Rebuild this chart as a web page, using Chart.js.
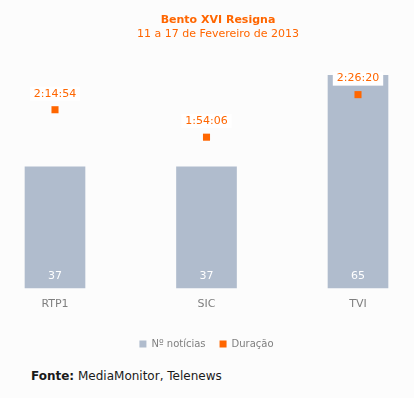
<!DOCTYPE html>
<html>
<head>
<meta charset="utf-8">
<script src="https://cdn.jsdelivr.net/npm/chart.js@4"></script>
<style>
  html, body { margin: 0; padding: 0; background: #fcfcfc; }
  #wrap { position: relative; width: 414px; height: 398px; }
  #box { position: absolute; left: 0; top: 0; width: 414px; height: 359px; }
  .tit { position: absolute; left: 118px; width: 200px; text-align: center; color: #ff6600;
         font: 11px "DejaVu Sans", Verdana, sans-serif; line-height: 13px; white-space: nowrap; }
  #t1 { top: 13px; font-weight: bold; }
  #t2 { top: 27px; }
  #fonte { position: absolute; left: 31px; top: 369px; font: 12px "DejaVu Sans", Verdana, sans-serif; color: #1a1a1a; }
</style>
</head>
<body>
<div id="wrap">
  <div id="box"><canvas id="chart"></canvas></div>
  <div class="tit" id="t1">Bento XVI Resigna</div>
  <div class="tit" id="t2">11 a 17 de Fevereiro de 2013</div>
  <div id="fonte"><b>Fonte:</b> MediaMonitor, Telenews</div>
</div>
<script>
// dados
const canais = ['RTP1', 'SIC', 'TVI'];
const noticias = [37, 37, 65];
const duracaoSeg = [8094, 6846, 8780]; // 2:14:54, 1:54:06, 2:26:20

const laranja = '#ff6600';
const cinza = '#b0bccd';
const FONT = '"DejaVu Sans", Verdana, sans-serif';

function fmtDur(s) {
  const h = Math.floor(s / 3600);
  const m = Math.floor((s % 3600) / 60);
  const sec = s % 60;
  return h + ':' + String(m).padStart(2, '0') + ':' + String(sec).padStart(2, '0');
}

// rótulos dos valores
const labelsPlugin = {
  id: 'rotulos',
  afterDatasetsDraw(chart) {
    const ctx = chart.ctx;
    ctx.save();
    ctx.textAlign = 'center';
    ctx.textBaseline = 'middle';
    ctx.font = '11px ' + FONT;
    // barras
    chart.getDatasetMeta(0).data.forEach((bar, i) => {
      ctx.fillStyle = '#ffffff';
      ctx.fillText(noticias[i], bar.x, bar.base - 12);
    });
    // duração
    chart.getDatasetMeta(1).data.forEach((pt, i) => {
      const txt = fmtDur(duracaoSeg[i]);
      const w = ctx.measureText(txt).width;
      const y = pt.y - 16;
      ctx.fillStyle = '#ffffff';
      ctx.fillRect(pt.x - w / 2 - 4, y - 7, w + 8, 14);
      ctx.fillStyle = laranja;
      ctx.fillText(txt, pt.x, y);
    });
    ctx.restore();
  }
};

const canvas = document.getElementById('chart');
canvas._chart = new Chart(canvas, {
  data: {
    labels: canais,
    datasets: [
      {
        type: 'bar',
        label: 'Nº notícias',
        data: noticias,
        backgroundColor: cinza,
        barThickness: 60,
        yAxisID: 'y',
        order: 1,
        clip: false
      },
      {
        type: 'line',
        label: 'Duração',
        data: duracaoSeg,
        showLine: false,
        pointStyle: 'rect',
        pointRadius: 5,
        pointHoverRadius: 5,
        pointBorderWidth: 0,
        backgroundColor: laranja,
        borderColor: laranja,
        yAxisID: 'y2',
        order: 0,
        clip: false
      }
    ]
  },
  options: {
    responsive: true,
    maintainAspectRatio: false,
    animation: false,
    layout: { padding: { left: 55, right: 56, top: 59, bottom: 0 } },
    plugins: {
      legend: {
        position: 'bottom',
        title: { display: true, text: '', font: { size: 1, lineHeight: 0 }, padding: { top: 4, bottom: 0 } },
        labels: {
          usePointStyle: true,
          pointStyle: 'rect',
          boxWidth: 7,
          boxHeight: 7,
          color: '#7f7f7f',
          font: { family: FONT, size: 10 },
          padding: 14,
          sort: (a, b) => a.datasetIndex - b.datasetIndex
        }
      },
      tooltip: { enabled: false }
    },
    scales: {
      x: {
        offset: false,
        grid: { display: false, drawTicks: false },
        border: { display: false },
        ticks: { color: '#7f7f7f', font: { family: FONT, size: 11 }, padding: 10 }
      },
      y: {
        display: false,
        min: 0,
        max: 70
      },
      y2: {
        display: false,
        min: 0,
        max: 10400
      }
    }
  },
  plugins: [labelsPlugin]
});
</script>
</body>
</html>
